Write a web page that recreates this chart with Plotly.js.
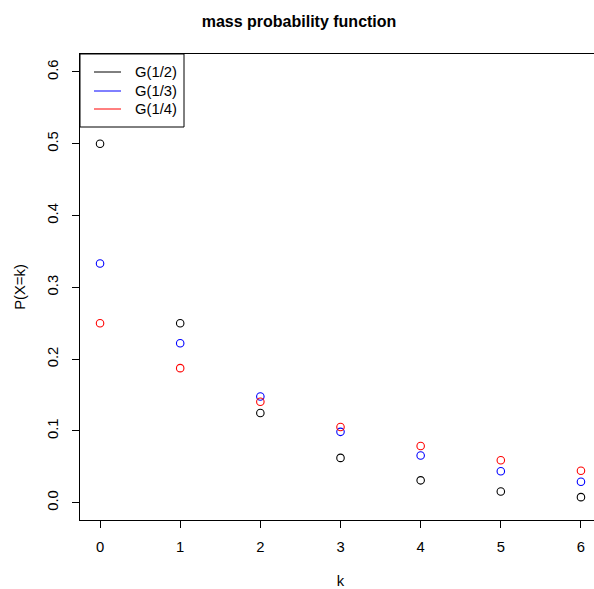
<!DOCTYPE html>
<html>
<head>
<meta charset="utf-8">
<script src="https://cdn.plot.ly/plotly-3.0.1.min.js"></script>
<style>html,body{margin:0;padding:0;background:#fff;overflow:hidden}#chart{width:601px;height:589px}</style>
</head>
<body>
<div id="chart"></div>
<script>
const k = [0, 1, 2, 3, 4, 5, 6];
const g12 = [0.5, 0.25, 0.125, 0.0625, 0.03125, 0.015625, 0.0078125];
const g13 = [0.3333, 0.2222, 0.1481, 0.0988, 0.0658, 0.0439, 0.0293];
const g14 = [0.25, 0.1875, 0.1406, 0.1055, 0.0791, 0.0593, 0.0445];
const seriesNames = ["G(1/2)", "G(1/3)", "G(1/4)"];
const seriesColors = ["#000000", "#0000ff", "#ff0000"];
const yTicks = [0, 0.1, 0.2, 0.3, 0.4, 0.5, 0.6];

const W = 601, H = 589, L = 80, R = 0, T = 54, B = 69;
const pw = W - L - R, ph = H - T - B;
const px = v => (v - L) / pw;
const py = v => (H - B - v) / ph;

const series = [g12, g13, g14];
const traces = series.map((s, i) => ({
  x: k, y: s, mode: "markers", type: "scatter", name: seriesNames[i], showlegend: false,
  marker: {symbol: "circle-open", size: 7.5, color: seriesColors[i], line: {width: 1.1, color: seriesColors[i]}},
  hoverinfo: "skip"
}));

const ff = "Liberation Sans, Arial, sans-serif";
const font = {family: ff, size: 14.8, color: "#000"};

// legend drawn as R does: boxed, short lines, labels
const shapes = [{type: "rect", xref: "paper", yref: "paper", x0: px(80), x1: px(184), y0: py(127), y1: py(54),
  line: {color: "#000", width: 1}, fillcolor: "#fff", layer: "above"}];
const annotations = [];
const rowY = [72, 91, 109];
seriesNames.forEach((n, i) => {
  shapes.push({type: "line", xref: "paper", yref: "paper", x0: px(94), x1: px(121), y0: py(rowY[i]), y1: py(rowY[i]),
    line: {color: seriesColors[i], width: 1}, layer: "above"});
  annotations.push({xref: "paper", yref: "paper", x: px(133), y: py(rowY[i]), xanchor: "left", yanchor: "middle",
    text: n, showarrow: false, font: font});
});

const layout = {
  width: W, height: H,
  margin: {l: L, r: R, t: T, b: B},
  paper_bgcolor: "#fff", plot_bgcolor: "#fff",
  font: font,
  showlegend: false,
  shapes: shapes, annotations: annotations,
  title: {text: "<b>mass probability function</b>", font: {family: ff, size: 16, color: "#000"},
    xref: "container", x: 299 / W, xanchor: "center", yref: "container", y: 1 - 21 / H, yanchor: "middle"},
  xaxis: {
    range: [-0.25, 6.25], tickvals: k, ticktext: k.map(String),
    showgrid: false, zeroline: false, showline: true, mirror: true, linecolor: "#000", linewidth: 1,
    ticks: "outside", ticklen: 7, tickcolor: "#000", tickfont: font, ticklabelstandoff: 6,
    title: {text: "k", font: font, standoff: 24}
  },
  yaxis: {
    range: [-0.024, 0.625], tickvals: yTicks, ticktext: yTicks.map(v => v.toFixed(1)), tickangle: -90,
    showgrid: false, zeroline: false, showline: true, mirror: true, linecolor: "#000", linewidth: 1,
    ticks: "outside", ticklen: 7, tickcolor: "#000", tickfont: font, ticklabelstandoff: 8,
    title: {text: "P(X=k)", font: font, standoff: 15}
  }
};
Plotly.newPlot("chart", traces, layout, {staticPlot: true});
</script>
</body>
</html>
